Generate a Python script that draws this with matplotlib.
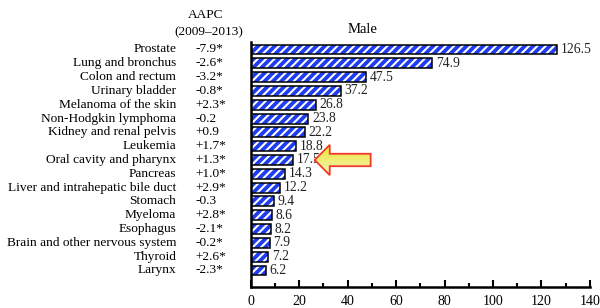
import numpy as np
import matplotlib.pyplot as plt
from matplotlib.patches import Polygon
from matplotlib.colors import LinearSegmentedColormap
from matplotlib.ticker import MultipleLocator

sites = ["Prostate", "Lung and bronchus", "Colon and rectum", "Urinary bladder",
         "Melanoma of the skin", "Non-Hodgkin lymphoma", "Kidney and renal pelvis",
         "Leukemia", "Oral cavity and pharynx", "Pancreas",
         "Liver and intrahepatic bile duct", "Stomach", "Myeloma", "Esophagus",
         "Brain and other nervous system", "Thyroid", "Larynx"]
rates = [126.5, 74.9, 47.5, 37.2, 26.8, 23.8, 22.2, 18.8, 17.5, 14.3,
         12.2, 9.4, 8.6, 8.2, 7.9, 7.2, 6.2]
aapc = ["-7.9*", "-2.6*", "-3.2*", "-0.8*", "+2.3*", "-0.2", "+0.9", "+1.7*",
        "+1.3*", "+1.0*", "+2.9*", "-0.3", "+2.8*", "-2.1*", "-0.2*", "+2.6*", "-2.3*"]

plt.rcParams["font.family"] = ["Liberation Serif", "DejaVu Serif"]
plt.rcParams["hatch.linewidth"] = 1.5

fig = plt.figure(figsize=(6, 3.08), dpi=100)
ax = fig.add_axes([0.418, 0.068, 0.565, 0.796])

n = len(sites)
y = np.arange(n)[::-1]

# blue bars with white diagonal stripes, then a black outline on top
ax.barh(y, rates, height=0.72, color="#1e3cf0", edgecolor="white", hatch="////", linewidth=0)
ax.barh(y, rates, height=0.72, fill=False, edgecolor="black", linewidth=1.1)

for yi, r in zip(y, rates):
    ax.text(r + 1.5, yi, f"{r:.1f}", va="center", ha="left", fontsize=9.8, color="#222222")

ax.set_xlim(0, 140)
ax.set_ylim(-1.2, n - 0.45)
ax.set_yticks([])
ax.xaxis.set_major_locator(MultipleLocator(20))
ax.xaxis.set_minor_locator(MultipleLocator(10))
ax.tick_params(axis="x", which="major", direction="in", length=5, width=1.5, labelsize=10, pad=6)
ax.tick_params(axis="x", which="minor", direction="in", length=3, width=1.5)
for s in ["top", "right"]:
    ax.spines[s].set_visible(False)
ax.spines["left"].set_linewidth(1.8)
ax.spines["bottom"].set_linewidth(1.8)

# labels on the left
for yi, name, a in zip(y, sites, aapc):
    ax.text(-0.22, yi, name, transform=ax.get_yaxis_transform(), ha="right", va="center", fontsize=9.6)
    ax.text(-0.163, yi, a, transform=ax.get_yaxis_transform(), ha="left", va="center", fontsize=9.6)

fig.text(0.342, 0.95, "AAPC", ha="center", va="center", fontsize=9.6)
fig.text(0.348, 0.895, "(2009\u20132013)", ha="center", va="center", fontsize=9.6)
fig.text(0.605, 0.905, "Male", ha="center", va="center", fontsize=10.5)

# highlight arrow pointing at oral cavity
yc = y[sites.index("Oral cavity and pharynx")]
pts = [(26.4, yc), (32.6, yc + 1.1), (32.6, yc + 0.45), (49.5, yc + 0.45),
       (49.5, yc - 0.45), (32.6, yc - 0.45), (32.6, yc - 1.1)]
arrow = Polygon(pts, closed=True, facecolor="none", edgecolor="#f23a2a", linewidth=1.3, zorder=6)
ax.add_patch(arrow)
grad = np.linspace(0, 1, 50).reshape(-1, 1)
img = ax.imshow(grad, extent=(26.4, 49.5, yc - 1.1, yc + 1.1), aspect="auto",
                cmap=LinearSegmentedColormap.from_list("yl", ["#f4f2b8", "#ece633"]),
                origin="lower", zorder=5)
img.set_clip_path(arrow)

fig.savefig("out.png", dpi=100)
